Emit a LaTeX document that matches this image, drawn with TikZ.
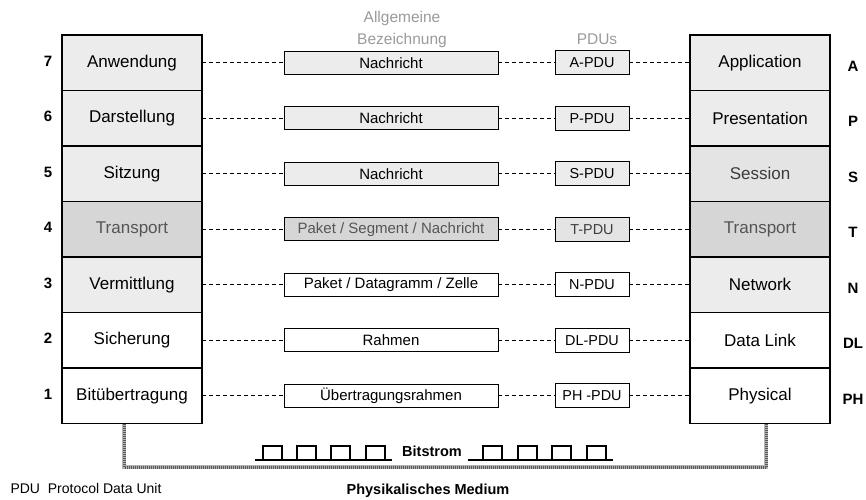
\documentclass[tikz,border=0pt]{standalone}
\usepackage{fontspec}
\setmainfont{Liberation Sans}
\definecolor{lgray}{HTML}{ECECEC}
\definecolor{sgray}{HTML}{E4E4E4}
\definecolor{dgray}{HTML}{D6D6D6}
\definecolor{tgray}{HTML}{555555}
\definecolor{stgray}{HTML}{3C3C3C}
\definecolor{hgray}{HTML}{9A9A9A}
\begin{document}
\begin{tikzpicture}[x=1pt,y=-1pt,
  layer/.style={draw, line width=1.1pt, minimum width=140pt, minimum height=55.5pt, inner sep=0pt, outer sep=0pt, font=\fontsize{17}{19}\selectfont},
  light/.style={fill=lgray},
  sess/.style={fill=sgray, text=stgray},
  dark/.style={fill=dgray, text=tgray},
  midbox/.style={draw, line width=0.9pt, minimum width=214pt, minimum height=23pt, inner sep=0pt, font=\fontsize{15}{17}\selectfont},
  pdubox/.style={draw, line width=0.9pt, minimum width=74pt, minimum height=24pt, inner sep=0pt, font=\fontsize{14.4}{16}\selectfont},
  conn/.style={dash pattern=on 4pt off 3pt, line width=0.8pt},
  lbl/.style={font=\bfseries\fontsize{15}{17}\selectfont},
  hdr/.style={text=hgray, align=center, font=\fontsize{15.5}{22}\selectfont},
  bold14/.style={font=\bfseries\fontsize{14.5}{16}\selectfont},
  pulse/.style={line width=1.1pt},
  medium/.style={line width=4.5pt, draw=gray!60},
  mediumtex/.style={line width=3pt, draw=black!65, dash pattern=on 0.8pt off 1.2pt},
]
\useasboundingbox (0,0) rectangle (866,499);

% left stack
\node[layer,light] (L7) at (132,62.75) {Anwendung};
\node[layer,light] (L6) at (132,118.25) {Darstellung};
\node[layer,light] (L5) at (132,173.75) {Sitzung};
\node[layer,dark]  (L4) at (132,229.25) {Transport};
\node[layer,light] (L3) at (132,284.75) {Vermittlung};
\node[layer]       (L2) at (132,340.25) {Sicherung};
\node[layer]       (L1) at (132,395.75) {Bitübertragung};

% right stack
\node[layer,light] (R7) at (760,62.75) {Application};
\node[layer,light] (R6) at (760,118.25) {Presentation};
\node[layer,sess]  (R5) at (760,173.75) {Session};
\node[layer,dark]  (R4) at (760,229.25) {Transport};
\node[layer,light] (R3) at (760,284.75) {Network};
\node[layer]       (R2) at (760,340.25) {Data Link};
\node[layer]       (R1) at (760,395.75) {Physical};

% middle boxes
\node[midbox,light] (M7) at (391,62.75) {Nachricht};
\node[midbox,light] (M6) at (391,118.25) {Nachricht};
\node[midbox,light] (M5) at (391,173.75) {Nachricht};
\node[midbox,dark]  (M4) at (391,229.25) {Paket / Segment / Nachricht};
\node[midbox]       (M3) at (391,284.75) {Paket / Datagramm / Zelle};
\node[midbox]       (M2) at (391,340.25) {Rahmen};
\node[midbox]       (M1) at (391,395.75) {Übertragungsrahmen};

% PDU boxes
\node[pdubox,light] (P7) at (592,62.75) {A-PDU};
\node[pdubox,light] (P6) at (592,118.25) {P-PDU};
\node[pdubox,light] (P5) at (592,173.75) {S-PDU};
\node[pdubox,sess]  (P4) at (592,229.25) {T-PDU};
\node[pdubox]       (P3) at (592,284.75) {N-PDU};
\node[pdubox]       (P2) at (592,340.25) {DL-PDU};
\node[pdubox]       (P1) at (592,395.75) {PH -PDU};

% connectors
\foreach \i in {1,...,7}{
  \draw[conn] (L\i.east) -- (M\i.west);
  \draw[conn] (M\i.east) -- (P\i.west);
  \draw[conn] (P\i.east) -- (R\i.west);
}

% layer numbers and letters
\node[lbl] (n7) at (48,61) {7};
\node[lbl] (n6) at (48,116.5) {6};
\node[lbl] (n5) at (48,172) {5};
\node[lbl] (n4) at (48,227.5) {4};
\node[lbl] (n3) at (48,283) {3};
\node[lbl] (n2) at (48,338.5) {2};
\node[lbl] (n1) at (48,394) {1};
\node[lbl] (a7) at (853,66) {A};
\node[lbl] (a6) at (853,121.5) {P};
\node[lbl] (a5) at (853,177) {S};
\node[lbl] (a4) at (853,232.5) {T};
\node[lbl] (a3) at (853,288) {N};
\node[lbl] (a2) at (853,343.5) {DL};
\node[lbl] (a1) at (853,399) {PH};

% headers
\node[hdr] (h1) at (402,29) {Allgemeine\\Bezeichnung};
\node[hdr] (h2) at (597,39) {PDUs};

% physical medium
\coordinate (ml) at ([xshift=-8pt]L1.south);
\coordinate (mr) at ([xshift=6pt]R1.south);
\coordinate (mb) at (0,467);
\draw[medium] (ml) -- (ml |- mb) -- (mr |- mb) -- (mr);
\draw[mediumtex] (ml) -- (ml |- mb) -- (mr |- mb) -- (mr);

% bit stream
\draw[pulse] (255,460) -- (392,460);
\foreach \x in {263,297,331,366}{
  \draw[pulse] (\x,460) -- ++(0,-14) -- ++(19,0) -- ++(0,14);
}
\draw[pulse] (468,460) -- (613,460);
\foreach \x in {483,518,552,587}{
  \draw[pulse] (\x,460) -- ++(0,-14) -- ++(19,0) -- ++(0,14);
}
\node[bold14] (bs) at (432,451) {Bitstrom};
\node[bold14] (pm) at (428,491) {Physikalisches Medium};
\node[anchor=west, font=\fontsize{14}{16}\selectfont] (leg) at (7,488) {PDU\ \ Protocol Data Unit};
\end{tikzpicture}
\end{document}
